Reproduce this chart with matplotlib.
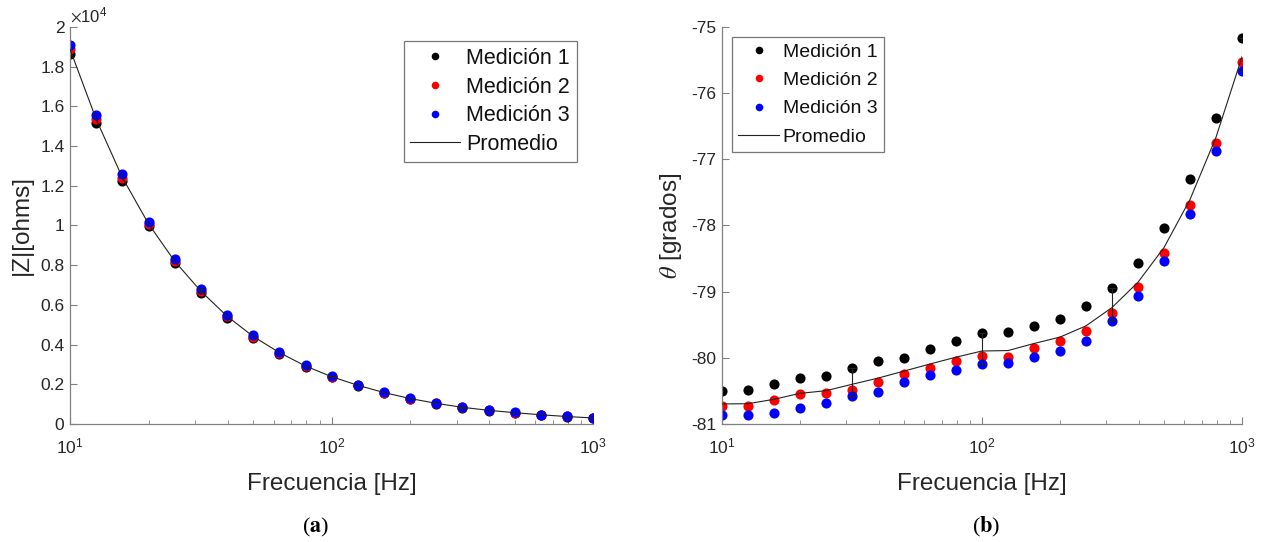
import numpy as np
import matplotlib
matplotlib.use("Agg")
import matplotlib.pyplot as plt
from matplotlib.ticker import FixedLocator, FuncFormatter, LogLocator, NullFormatter

plt.rcParams['font.family'] = ['Liberation Sans', 'DejaVu Sans']
plt.rcParams['mathtext.fontset'] = 'stix'

# frequencies (10 points per decade)
freq = [10, 12.59, 15.85, 19.95, 25.12, 31.62, 39.81, 50.12, 63.1, 79.43, 100,
        125.9, 158.5, 199.5, 251.2, 316.2, 398.1, 501.2, 631, 794.3, 1000]

# |Z| in ohms
z_m1 = [18650, 15150, 12250, 9950, 8100, 6600, 5350, 4350, 3550, 2880, 2350,
        1930, 1570, 1270, 1030, 830, 680, 560, 460, 370, 300]
z_m2 = [18900, 15350, 12400, 10100, 8200, 6700, 5450, 4400, 3600, 2920, 2380,
        1950, 1580, 1280, 1040, 840, 690, 570, 460, 380, 300]
z_m3 = [19100, 15550, 12600, 10200, 8300, 6780, 5500, 4480, 3650, 2960, 2420,
        1970, 1600, 1300, 1050, 850, 700, 580, 470, 380, 310]

# phase in degrees
th_m1 = [-80.50, -80.48, -80.40, -80.30, -80.28, -80.15, -80.05, -80.00, -79.86, -79.74, -79.63,
         -79.61, -79.52, -79.41, -79.22, -78.95, -78.57, -78.04, -77.30, -76.38, -75.16]
th_m2 = [-80.73, -80.73, -80.64, -80.55, -80.53, -80.48, -80.36, -80.24, -80.16, -80.05, -79.97,
         -79.98, -79.85, -79.75, -79.59, -79.32, -78.93, -78.42, -77.69, -76.75, -75.53]
th_m3 = [-80.86, -80.87, -80.84, -80.76, -80.68, -80.57, -80.51, -80.36, -80.26, -80.18, -80.09,
         -80.08, -79.98, -79.90, -79.74, -79.45, -79.07, -78.54, -77.83, -76.87, -75.66]

labels = ["Medición 1", "Medición 2", "Medición 3", "Promedio"]
colors = ["black", "red", "blue"]
tick_color = "#262626"
spine_color = "#808080"


def draw_panel(ax, series, ylim, yticks, ylabel, yfmt, legend_loc, legend_anchor, leg_opts):
    data = np.array(series)
    mean = data.mean(axis=0)
    lo = mean - data.min(axis=0)
    hi = data.max(axis=0) - mean
    for vals, c, lab in zip(series, colors, labels):
        ax.plot(freq, vals, "o", color=c, ms=7.3, mec="none", label=lab, zorder=2)
    ax.errorbar(freq, mean, yerr=[lo, hi], errorevery=(5, 5), color="#222222",
                lw=0.8, elinewidth=0.8, capsize=3, capthick=0.8, label=labels[3], zorder=3)
    ax.set_xscale("log")
    ax.set_xlim(10, 1000)
    ax.set_ylim(*ylim)
    ax.yaxis.set_major_locator(FixedLocator(yticks))
    ax.yaxis.set_major_formatter(FuncFormatter(yfmt))
    ax.xaxis.set_major_locator(FixedLocator([10, 100, 1000]))
    ax.xaxis.set_major_formatter(FuncFormatter(
        lambda v, p: r"$\mathregular{10^{%d}}$" % round(np.log10(v))))
    ax.xaxis.set_minor_locator(LogLocator(base=10, subs=np.arange(2, 10)))
    ax.xaxis.set_minor_formatter(NullFormatter())
    ax.tick_params(which="both", direction="in", colors=spine_color,
                   labelcolor=tick_color)
    ax.tick_params(axis="y", labelsize=12.5, pad=4)
    ax.tick_params(axis="x", labelsize=12.5, pad=9)
    ax.tick_params(which="major", length=5)
    ax.tick_params(which="minor", length=3)
    ax.spines["top"].set_visible(False)
    ax.spines["right"].set_visible(False)
    for s in ["left", "bottom"]:
        ax.spines[s].set_color(spine_color)
        ax.spines[s].set_linewidth(0.9)
    ax.set_xlabel("Frecuencia [Hz]", fontsize=17.5, color=tick_color, labelpad=12)
    ax.set_ylabel(ylabel, fontsize=17.5, color=tick_color, labelpad=5)

    handles, labs = ax.get_legend_handles_labels()
    handles[3] = handles[3][0]
    leg = ax.legend(handles, labs, loc=legend_loc, bbox_to_anchor=legend_anchor,
                    borderaxespad=0, markerscale=0.75, borderpad=0.32,
                    fancybox=False, framealpha=1, edgecolor="#777777", **leg_opts)
    leg.get_frame().set_linewidth(0.9)
    for t in leg.get_texts():
        t.set_color("#111111")


fig = plt.figure(figsize=(12.64, 5.42), dpi=100)
ax1 = fig.add_axes([0.0554, 0.2177, 0.414, 0.7325])
ax2 = fig.add_axes([0.5712, 0.2177, 0.4114, 0.7325])

draw_panel(ax1, [z_m1, z_m2, z_m3], (0, 20000), np.arange(0, 20001, 2000),
           "|Z|[ohms]", lambda v, p: "%g" % round(v / 1e4, 1),
           "upper right", (0.969, 0.965),
           dict(fontsize=15.5, handlelength=2.3, handletextpad=0.3, labelspacing=0.36))
ax1.text(0.0, 1.005, r"$\times\mathregular{10^{4}}$", transform=ax1.transAxes,
         fontsize=12, color=tick_color, ha="left", va="bottom")

draw_panel(ax2, [th_m1, th_m2, th_m3], (-81, -75), np.arange(-81, -74),
           r"$\theta$ [grados]", lambda v, p: "%d" % v,
           "upper left", (0.019, 0.975),
           dict(fontsize=14, handlelength=2.1, handletextpad=0.2, labelspacing=0.55))

fig.text(0.25, 0.005, r"($\mathbf{a}$)", fontsize=16, family="Liberation Serif",
         ha="center", va="bottom")
fig.text(0.78, 0.005, r"($\mathbf{b}$)", fontsize=16, family="Liberation Serif",
         ha="center", va="bottom")

fig.savefig("out.png", dpi=100)
